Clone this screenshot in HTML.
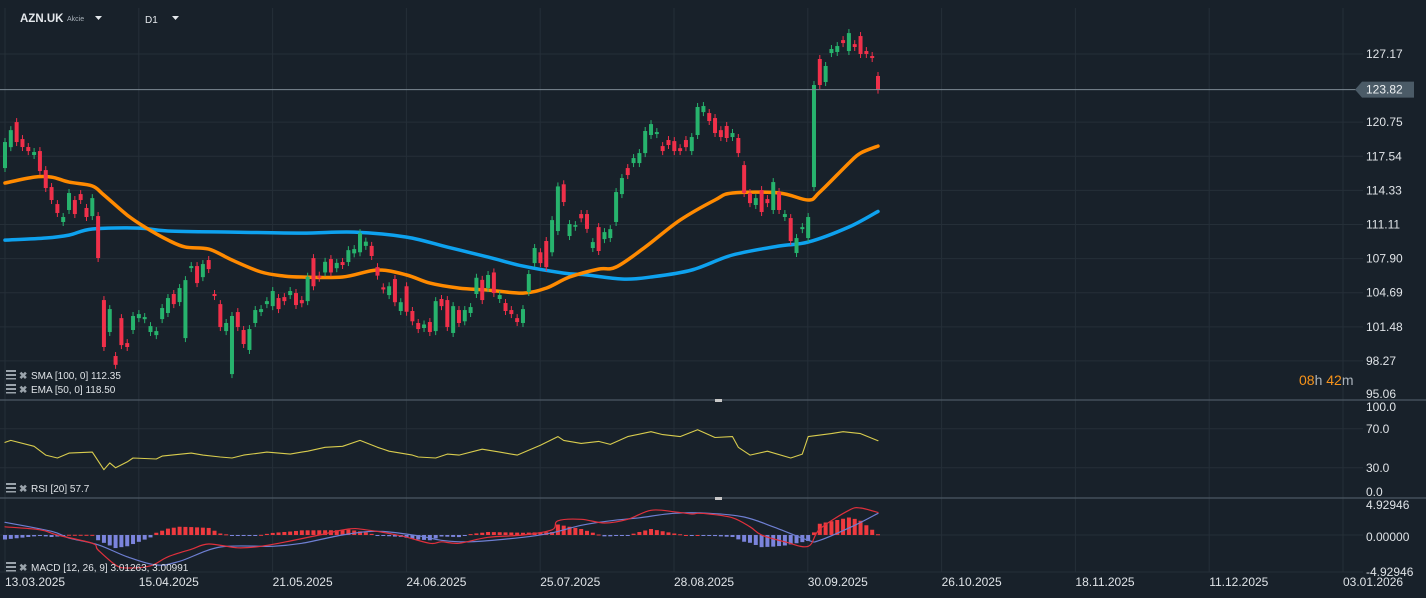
<!DOCTYPE html>
<html><head><meta charset="utf-8"><style>
html,body{margin:0;padding:0;background:#18212a;overflow:hidden}
svg{display:block;font-family:"Liberation Sans",sans-serif}
</style></head><body>
<svg id="c" width="1426" height="598" xmlns="http://www.w3.org/2000/svg">
<rect width="1426" height="598" fill="#18212a"/>
<g id="grid"></g>
<g id="ind"></g>
<g id="candles"></g>
<g id="axes"></g>
<g>
<text x="20" y="22" fill="#e4e8ec" font-size="11.5" font-weight="bold">AZN.UK</text>
<text x="67" y="21" fill="#aab3bb" font-size="7">Akcie</text>
<path d="M95 16 L102 16 L98.5 20 Z" fill="#e4e8ec"/>
<text x="145" y="23" fill="#e4e8ec" font-size="10">D1</text>
<path d="M172 16 L179 16 L175.5 20 Z" fill="#e4e8ec"/>
</g>
<text x="1299" y="385" fill="#f7931a" font-size="14">08<tspan fill="#aab3bb">h </tspan>42<tspan fill="#aab3bb">m</tspan></text>
<g id="legend"></g>
</svg>
<script>
const opens=[116.43,118.4,120.76,119.16,118.41,117.66,118.03,116.24,114.64,113.04,111.35,112.48,113.42,113.98,112.67,111.91,111.91,104.0,100.99,98.73,102.3,99.95,101.18,102.3,102.2,100.99,100.7,102.21,102.78,104.57,103.81,100.42,107.01,107.2,106.16,107.77,104.57,103.62,101.08,97.03,102.87,101.18,99.3,101.84,102.87,103.62,103.43,104.19,104.28,104.47,104.66,
104.0,103.9,107.95,106.3,106.6,107.86,107.0,107.58,107.58,108.4,108.5,109.1,109.1,107.1,105.2,104.47,105.98,102.97,105.3,102.97,101.84,101.37,101.93,101.08,104.1,104.0,100.9,103.06,102.0,102.78,104.57,105.9,105.13,106.6,104.1,103.72,103.06,102.3,101.84,104.76,107.48,108.5,109.56,108.5,110.5,114.9,110.03,110.9,112.1,112.1,
108.9,110.87,109.74,109.84,111.35,113.98,116.43,116.9,116.9,117.84,119.54,119.63,118.5,119.07,118.97,118.3,119.07,118.03,119.54,121.7,121.61,121.14,120.0,120.39,119.35,119.26,116.71,114.08,112.95,114.36,113.51,112.48,114.17,111.82,111.72,108.43,110.68,109.84,114.64,126.7,124.53,127.26,127.36,128.48,127.45,128.1,128.86,127.45,126.98,125.1];
const closes=[118.88,120.0,118.88,118.41,118.03,117.94,116.15,114.55,113.42,112.2,111.82,114.08,112.1,113.42,111.82,113.6,107.96,99.58,103.15,97.9,99.76,99.58,102.5,102.68,102.4,101.55,101.08,103.25,104.19,103.62,105.13,105.88,107.2,105.6,107.39,106.92,104.38,101.46,101.84,102.5,101.46,99.86,101.27,103.06,103.15,103.9,104.85,103.15,103.9,104.85,103.53,
103.7,106.2,105.3,106.1,107.6,106.6,107.5,107.3,108.7,108.8,110.3,109.5,108.15,106.3,105.0,105.3,103.8,103.8,102.9,102.0,101.27,101.7,100.99,103.9,103.43,101.46,103.43,101.84,103.06,103.34,106.1,104.0,106.36,104.66,104.47,102.97,102.68,101.93,103.15,106.45,108.9,107.48,107.1,111.53,114.7,113.23,111.16,111.06,111.7,110.7,
109.46,108.62,110.4,110.68,114.17,115.49,115.77,117.37,117.84,119.92,120.57,119.82,118.03,118.6,118.03,118.03,118.4,119.35,122.18,122.27,120.86,119.73,119.35,119.26,119.73,117.84,114.08,113.13,113.6,112.29,113.13,115.11,112.48,112.1,109.56,109.84,110.87,111.82,124.25,124.25,126.04,127.64,127.92,128.2,129.14,127.83,127.17,127.17,126.79,123.82];
const emaIdx=[0,5,8,11,15,17,21,24,28,31,35,39,44,48,51,58,64,69,73,78,83,89,93,97,102,105,110,116,122,125,133,138,140,145,147,150];
const emaVal=[115.02,115.58,115.58,115.11,114.74,113.89,112.0,110.88,109.65,108.99,108.8,107.77,106.64,106.26,106.17,106.17,106.83,106.36,105.6,105.13,104.94,104.66,105.13,106.17,106.92,107.11,108.99,111.53,113.42,114.08,114.08,113.42,114.17,116.9,117.84,118.5];
const smaIdx=[0,7,11,15,23,28,39,51,60,69,76,83,89,96,100,106,111,118,125,133,138,145,150];
const smaVal=[109.65,109.84,110.12,110.69,110.78,110.5,110.4,110.31,110.4,109.93,108.99,108.05,107.2,106.54,106.36,105.98,106.17,106.83,108.24,109.09,109.46,110.88,112.35];
const rsiIdx=[0,1,5,7,9,11,15,17,18,19,21,22,26,27,32,34,37,39,41,45,49,51,52,55,58,61,64,66,70,71,74,76,78,82,85,88,92,95,96,99,102,104,107,111,113,116,119,122,125,126,128,131,135,137,138,142,144,147,150];
const rsiVal=[56,58,52,43,40,45,46,28,35,30,36,40,39,42,45,43,41,40,43,46,44,46,47,51,52,58,51,47,43,41,40,44,43,49,46,43,53,62,58,55,57,54,62,67,64,62,69,61,62,51,43,47,40,44,62,65,67,65,57.7];
const macdIdx=[0,6,9,15,16,19,21,25,28,32,35,40,44,49,54,59,62,68,73,75,78,83,89,94,95,99,103,107,111,115,118,119,121,125,128,130,134,138,140,145,147,150];
const macdVal=[1.1,0.7,0,-1.1,-2.0,-4.0,-4.4,-4.1,-2.9,-1.9,-1.2,-1.7,-1.5,-0.8,0,0.8,0.7,-0.1,-1.1,-0.9,-1.1,-0.3,0,0.7,1.9,2.1,1.6,2.1,3.3,3.1,2.8,2.9,2.8,2.3,1.1,0,-0.9,-1.5,0.8,3.3,3.6,3.0];
const sigIdx=[0,8,11,16,21,26,30,37,46,51,58,64,71,75,80,89,94,99,104,109,115,121,127,132,138,140,146,150];
const sigVal=[1.7,0.5,-0.4,-1.3,-2.9,-4.0,-3.5,-1.6,-1.5,-1.1,0,0.5,-0.1,-0.7,-0.9,-0.3,0.3,1.3,1.9,2.3,2.9,2.9,2.4,1.1,-0.7,-0.7,1.3,2.9];
const dateLabels=["13.03.2025","15.04.2025","21.05.2025","24.06.2025","25.07.2025","28.08.2025","30.09.2025","26.10.2025","18.11.2025","11.12.2025","03.01.2026"];
const priceTicks=[127.17,120.75,117.54,114.33,111.11,107.90,104.69,101.48,98.27,95.06];
const rsiTicks=[100,70,30,0];
const macdTicks=[4.92946,0,-4.92946];
const lastPrice=123.82;

const NS="http://www.w3.org/2000/svg";
const X0=5,STEP=5.82;
const xi=i=>X0+i*STEP;
const yP=p=>54+(127.17-p)*10.62;
const yR=v=>497-v*0.975;
const yM=v=>535-v*7.5;
function mk(tag,attrs,parent){const e=document.createElementNS(NS,tag);for(const k in attrs)e.setAttribute(k,attrs[k]);parent.appendChild(e);return e;}
const grid=document.getElementById('grid'),ind=document.getElementById('ind'),cg=document.getElementById('candles'),ax=document.getElementById('axes'),lg=document.getElementById('legend');

dateLabels.forEach((d,k)=>{const x=5+k*133.8;
 const l=mk('line',{x1:x,x2:x,y1:8,y2:572,stroke:'#252f38','stroke-width':1},grid);
 
 const t=mk('text',{x:x,y:586,fill:'#dfe3e7','font-size':12},ax);t.textContent=d;
 });
priceTicks.forEach(p=>{const y=yP(p);
 if(p>96){const l=mk('line',{x1:0,x2:1363,y1:y,y2:y,stroke:'#252f38','stroke-width':1},grid);
 }
 const t=mk('text',{x:1366,y:Math.min(y+4,398),fill:'#dfe3e7','font-size':12},ax);t.textContent=p.toFixed(2);
 });
rsiTicks.forEach(v=>{const y=yR(v);
 if(v>0&&v<100){const l=mk('line',{x1:0,x2:1363,y1:y,y2:y,stroke:'#252f38'},grid);
 }
 const t=mk('text',{x:1366,y:v==100?411:(v==0?496:y+4),fill:'#dfe3e7','font-size':12},ax);t.textContent=v.toFixed(1);
 });
macdTicks.forEach(v=>{const y=yM(v);
 if(v<=0){const l=mk('line',{x1:0,x2:1363,y1:y,y2:y,stroke:'#252f38'},grid);
 }
 const t=mk('text',{x:1366,y:v>0?509:(v==0?541:y+4),fill:'#dfe3e7','font-size':12},ax);t.textContent=v.toFixed(5);
 });
[400,498].forEach(y=>{const l=mk('line',{x1:0,x2:1426,y1:y,y2:y,stroke:'#4c5863','stroke-width':1.3},grid);
 
 const h=mk('rect',{x:715,y:y-1,width:7,height:3,fill:'#c8c8c8'},grid);
 });

function interp(idx,val,i){if(i<=idx[0])return val[0];for(let k=1;k<idx.length;k++){if(i<=idx[k]){const t=(i-idx[k-1])/(idx[k]-idx[k-1]);return val[k-1]+t*(val[k]-val[k-1]);}}return val[val.length-1];}
function line(idx,val,yf,color,w,name,smooth){
 const P=idx.map((i,k)=>[xi(i),yf(val[k])]);
 let d='M'+P[0][0].toFixed(1)+' '+P[0][1].toFixed(1);
 for(let k=0;k<P.length-1;k++){
  if(!smooth){d+=' L'+P[k+1][0].toFixed(1)+' '+P[k+1][1].toFixed(1);continue;}
  const p0=P[Math.max(0,k-1)],p1=P[k],p2=P[k+1],p3=P[Math.min(P.length-1,k+2)];
  const c1=[p1[0]+(p2[0]-p0[0])/6,p1[1]+(p2[1]-p0[1])/6],c2=[p2[0]-(p3[0]-p1[0])/6,p2[1]-(p3[1]-p1[1])/6];
  d+=` C${c1[0].toFixed(1)} ${c1[1].toFixed(1)} ${c2[0].toFixed(1)} ${c2[1].toFixed(1)} ${p2[0].toFixed(1)} ${p2[1].toFixed(1)}`;}
 const p=mk('path',{d:d,fill:'none',stroke:color,'stroke-width':w,'stroke-linejoin':'round','stroke-linecap':'round'},ind);
 }

for(let i=0;i<closes.length;i++){const dv=interp(macdIdx,macdVal,i)-interp(sigIdx,sigVal,i);
 const y0=yM(0),y1=yM(dv);
 const r=mk('rect',{x:xi(i)-2,y:Math.min(y0,y1),width:4,height:Math.max(1,Math.abs(y1-y0)),fill:dv>=0?'#ef3a3f':'#7b84dc'},ind);
 }
line(sigIdx,sigVal,yM,'#6e7fd2',1.2,'macd-signal-line',true);
line(macdIdx,macdVal,yM,'#e0303c',1.2,'macd-line',true);
line(rsiIdx,rsiVal,yR,'#d8cc4e',1.1,'rsi-line',false);
line(smaIdx,smaVal,yP,'#0ea2ef',3.5,'sma-100-line',true);
line(emaIdx,emaVal,yP,'#ff8a00',3.5,'ema-50-line',true);

for(let i=0;i<closes.length;i++){const o=opens[i],c=closes[i],up=c>=o,col=up?'#27b36d':'#f0304a';
 const x=xi(i),yt=yP(Math.max(o,c)),yb=yP(Math.min(o,c));
 const w=mk('line',{x1:x,x2:x,y1:yt-4,y2:yb+4,stroke:col,'stroke-width':1},cg);
 
 const b=mk('rect',{x:x-2,y:yt,width:4,height:Math.max(1.5,yb-yt),fill:col},cg);
 }

const yl=yP(lastPrice);
const pl=mk('line',{x1:0,x2:1356,y1:yl,y2:yl,stroke:'#7d8a94','stroke-width':1},ax);

const tg=mk('path',{d:`M1355 ${yl} L1362 ${yl-8} L1414 ${yl-8} L1414 ${yl+8} L1362 ${yl+8} Z`,fill:'#4b5b67'},ax);

const tt=mk('text',{x:1366,y:yl+4,fill:'#eef1f3','font-size':12},ax);tt.textContent=lastPrice.toFixed(2);


[["SMA [100,  0] 112.35",378,"sma-legend"],["EMA [50,  0] 118.50",392,"ema-legend"],["RSI [20]  57.7",491,"rsi-legend"],["MACD [12, 26, 9] 3.01263,  3.00991",570,"macd-legend"]].forEach(a=>{
 const g=mk('g',{},lg);
 mk('rect',{x:6,y:a[1]-8,width:10,height:2,fill:'#9aa3ab'},g);mk('rect',{x:6,y:a[1]-4,width:10,height:2,fill:'#9aa3ab'},g);mk('rect',{x:6,y:a[1],width:10,height:1.5,fill:'#9aa3ab'},g);
 const x=mk('text',{x:19,y:a[1]+1,fill:'#9aa3ab','font-size':10,'font-weight':'bold'},g);x.textContent='✖';
 
 const t=mk('text',{x:31,y:a[1]+1,fill:'#dfe3e7','font-size':10},g);t.textContent=a[0];});
</script>
</body></html>
